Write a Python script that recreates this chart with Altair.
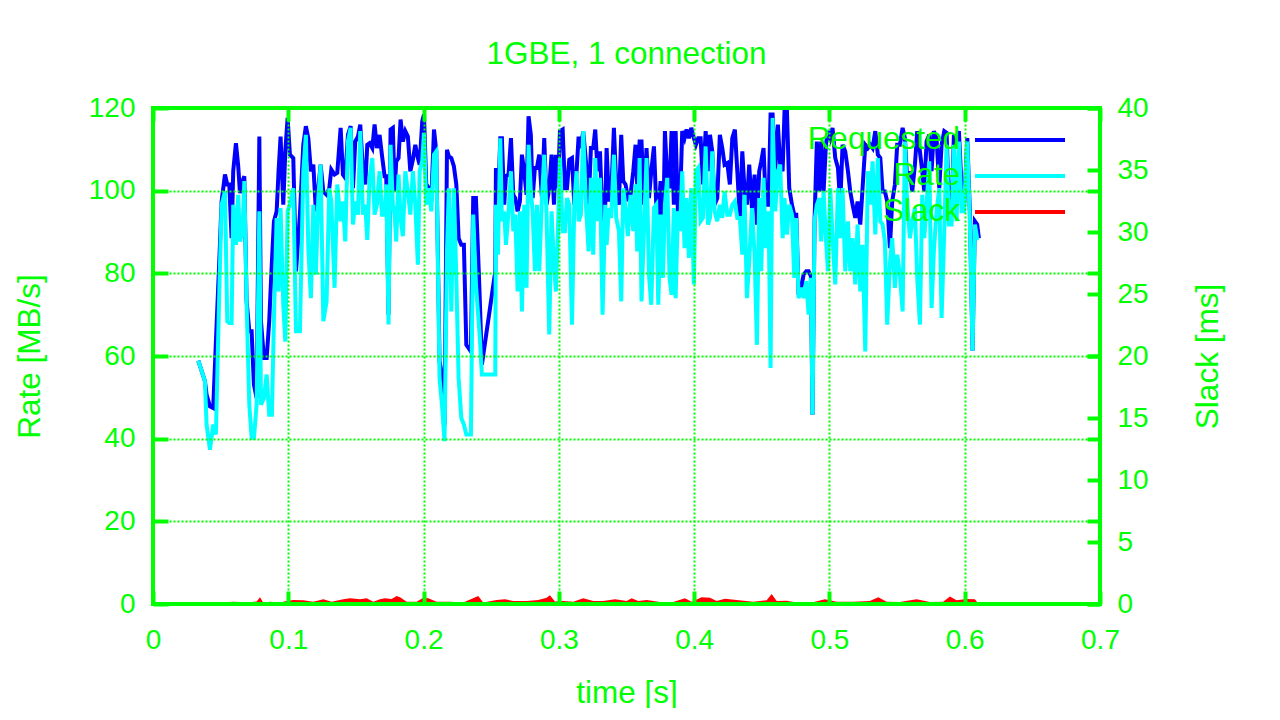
import altair as alt
import pandas as pd

GREEN = "#00ff00"
FONT = "Liberation Sans"
FS_NUM = 28     # tick labels
FS_TXT = 31.5   # titles and legend

# ---------------- data ----------------
time_a = [0.0335,0.0384,0.0396,0.0421,0.0445,0.0465,0.0490,0.0507,0.0532,0.0549,0.0564,0.0581,0.0593,0.0613,0.0630,0.0643,0.0662,0.0675,0.0692,0.0712,0.0729,0.0746,0.0766,0.0786,0.0798,0.0820,0.0840,0.0859,0.0879,0.0894,0.0914,0.0928,0.0943,0.0963,0.0978,0.0995,0.1012,0.1037,0.1057,0.1086,0.1111,0.1130,0.1148,0.1167,0.1185,0.1204,0.1222,0.1239,0.1259,0.1283,0.1303]
req_a = [58.9,53.9,50.6,47.8,47.4,63.5,82.9,97.4,103.9,101.5,101.5,88.5,104.7,111.5,105.9,99.4,102.3,103.5,73.2,66.0,66.0,53.1,49.8,113.1,68.4,59.5,59.5,68.4,82.9,92.6,95.0,104.7,113.1,96.6,109.5,117.6,108.7,107.9,80.5,94.2,111.1,115.6,112.7,104.7,106.3,95.0,100.6,106.3,99.8,99.0,100.6]
rate_a = [58.9,53.9,43.4,37.3,43.4,41.0,75.6,96.6,99.8,68.4,68.0,68.0,96.6,86.9,99.0,87.7,90.2,102.3,72.4,48.2,40.2,40.2,48.2,95.0,48.2,49.8,55.5,45.8,45.8,69.2,93.4,75.6,95.8,72.4,63.5,95.0,96.6,100.6,66.0,66.0,104.7,113.5,86.1,74.0,96.6,79.7,98.2,106.3,68.4,73.2,100.6]

time_b = [0.1318,0.1342,0.1362,0.1387,0.1404,0.1421,0.1441,0.1461,0.1478,0.1495,0.1515,0.1532,0.1552,0.1569,0.1584,0.1601,0.1621,0.1638,0.1655,0.1675,0.1692,0.1712,0.1724,0.1741,0.1756,0.1773,0.1786,0.1798,0.1815,0.1830,0.1847,0.1865,0.1884,0.1902,0.1921,0.1939,0.1958,0.1971,0.1990,0.2003,0.2020,0.2040,0.2057,0.2077,0.2094,0.2118,0.2136,0.2155,0.2173,0.2187,0.2205,0.2224,0.2242,0.2259,0.2279,0.2298,0.2316]
req_b = [105.1,103.9,104.3,115.2,103.9,103.1,113.5,115.6,100.6,111.9,113.1,116.0,104.7,101.5,111.1,111.5,110.3,116.0,110.3,113.5,108.7,103.5,103.5,70.0,114.8,115.2,99.8,107.1,107.9,117.2,111.9,114.4,113.1,104.7,107.5,111.1,107.9,106.3,116.8,118.4,101.5,100.6,97.4,114.8,109.5,58.7,55.5,43.4,109.9,108.3,107.9,105.9,101.5,88.5,86.9,86.9,62.7]
rate_b = [97.4,76.5,101.5,92.6,97.4,87.7,111.9,115.2,91.8,97.4,94.2,114.4,94.2,96.6,88.1,103.1,107.9,94.2,96.6,104.7,94.2,94.2,101.5,67.6,111.1,96.6,94.2,87.7,103.9,93.4,89.0,104.7,99.8,94.2,104.7,96.6,82.1,104.7,107.1,114.0,96.6,100.6,95.0,108.7,109.5,54.7,48.2,39.4,85.3,100.6,70.8,100.6,78.9,54.7,45.0,43.4,41.0]

time_c = [0.2333,0.2350,0.2367,0.2387,0.2407,0.2416,0.2431,0.2530,0.2535,0.2550,0.2567,0.2579,0.2596,0.2609,0.2628,0.2646,0.2663,0.2678,0.2695,0.2712,0.2727,0.2744,0.2761,0.2776,0.2793,0.2806,0.2823,0.2838,0.2855,0.2875,0.2892,0.2909,0.2929,0.2946,0.2964,0.2978,0.2993,0.3008,0.3028,0.3045,0.3060,0.3077,0.3097,0.3114,0.3131,0.3146,0.3163,0.3180,0.3200,0.3220,0.3237,0.3254,0.3269,0.3286,0.3304,0.3323,0.3343]
req_c = [61.9,61.1,98.2,98.2,81.3,73.2,57.9,80.5,105.5,96.6,112.7,112.7,96.6,103.5,103.9,112.7,99.0,98.2,95.0,97.4,108.7,104.7,99.0,118.0,113.5,98.2,105.5,105.5,108.7,98.2,112.7,96.6,100.6,108.7,96.6,108.7,100.6,114.4,114.8,100.6,100.6,107.5,107.9,96.6,104.7,113.1,110.3,114.4,107.1,96.6,110.3,110.3,114.8,104.7,109.5,92.6,96.6]
rate_c = [41.0,41.0,94.2,77.3,68.4,64.4,55.5,55.5,96.6,84.5,112.7,92.6,95.0,86.9,95.0,104.7,90.2,94.2,75.6,95.0,70.8,96.6,76.5,111.1,99.8,95.0,80.5,96.6,80.5,98.2,108.7,94.2,65.2,95.0,82.1,75.6,90.2,107.9,90.2,90.2,98.2,96.6,67.6,96.6,104.7,92.6,94.2,114.4,96.6,85.3,103.1,84.5,107.9,92.6,103.1,70.0,96.6]

time_d = [0.3353,0.3370,0.3387,0.3407,0.3424,0.3444,0.3461,0.3476,0.3493,0.3510,0.3530,0.3550,0.3567,0.3579,0.3597,0.3611,0.3629,0.3648,0.3666,0.3683,0.3703,0.3720,0.3735,0.3752,0.3769,0.3784,0.3801,0.3818,0.3833,0.3850,0.3863,0.3880,0.3895,0.3912,0.3929,0.3944,0.3961,0.3979,0.3998,0.4013,0.4030,0.4048,0.4065,0.4085,0.4102,0.4117,0.4134,0.4151,0.4171,0.4190,0.4208,0.4225,0.4245,0.4264,0.4282,0.4301,0.4319,0.4338,0.4356]
req_d = [110.3,97.4,99.0,115.2,101.5,96.6,113.5,102.3,101.5,98.2,99.0,104.7,111.1,101.5,111.9,111.9,96.6,110.3,98.2,104.7,110.7,96.6,94.2,102.3,85.3,114.4,103.1,100.6,114.4,96.6,114.4,95.0,96.6,114.4,112.7,114.8,112.7,115.2,112.7,111.1,112.7,112.7,101.5,114.4,104.7,113.5,109.5,96.6,98.2,113.5,110.3,106.3,106.7,101.5,112.7,114.8,104.7,93.4,109.5]
rate_d = [86.9,95.8,93.4,108.7,93.4,90.2,73.2,100.6,95.8,89.0,99.0,90.2,101.5,85.3,107.9,73.2,90.2,107.9,79.7,72.4,95.8,96.6,72.4,94.2,78.9,96.6,103.1,78.9,74.8,95.8,74.0,95.0,90.2,104.7,86.1,98.2,83.7,100.6,77.3,104.7,105.5,92.6,93.4,110.7,91.8,93.4,109.5,95.0,92.6,96.6,93.4,99.8,94.2,94.2,96.6,97.4,93.4,93.4,84.5]

time_e = [0.4373,0.4390,0.4407,0.4427,0.4447,0.4464,0.4481,0.4496,0.4513,0.4530,0.4550,0.4565,0.4580,0.4599,0.4619,0.4636,0.4654,0.4668,0.4686,0.4703,0.4723,0.4740,0.4755,0.4772,0.4792,0.4809,0.4829,0.4846,0.4863,0.4875,0.4890,0.4907,0.4925,0.4939,0.4957,0.4974,0.4989,0.5006,0.5023,0.5043,0.5063,0.5080,0.5097,0.5117,0.5137,0.5154,0.5171,0.5191,0.5208,0.5228,0.5245,0.5265,0.5284,0.5302,0.5319,0.5339,0.5358,0.5376]
req_e = [99.8,96.6,106.3,95.8,103.9,91.8,104.7,107.1,110.3,96.6,96.6,118.4,118.4,104.7,116.0,106.3,104.7,119.2,119.2,100.6,96.6,94.2,94.2,74.8,76.5,79.7,80.5,80.5,79.3,45.8,92.6,111.9,99.8,111.9,99.8,111.1,114.4,112.7,115.2,107.9,105.5,96.6,111.1,109.5,104.7,99.8,96.6,93.4,97.4,91.8,100.6,111.1,110.3,111.1,110.3,114.4,108.7,107.9]
rate_e = [99.0,74.0,82.9,95.8,84.5,62.7,98.2,80.5,103.1,86.1,95.0,57.1,117.6,95.0,104.7,106.3,88.5,98.2,89.4,96.6,94.2,78.9,93.4,74.0,76.5,74.0,78.1,70.0,78.9,45.8,92.6,96.6,98.2,87.7,99.8,88.5,80.5,100.6,88.5,77.3,100.6,88.5,100.6,80.5,92.6,80.5,88.5,77.3,91.8,75.6,86.9,61.1,104.7,96.6,107.1,89.4,107.9,92.6]

time_f = [0.5393,0.5410,0.5427,0.5447,0.5464,0.5484,0.5501,0.5521,0.5541,0.5558,0.5575,0.5595,0.5612,0.5632,0.5649,0.5669,0.5686,0.5701,0.5718,0.5738,0.5755,0.5772,0.5792,0.5812,0.5829,0.5849,0.5866,0.5883,0.5903,0.5920,0.5940,0.5957,0.5977,0.5994,0.6019,0.6038,0.6058,0.6075,0.6092,0.6105]
req_f = [99.8,99.8,97.4,86.1,97.4,101.5,111.1,111.1,115.2,112.7,102.3,104.7,99.8,106.3,114.4,109.5,104.7,99.8,111.9,113.5,104.7,114.4,112.7,100.6,111.1,114.4,114.0,96.6,94.2,113.5,111.1,114.4,100.6,95.0,112.7,95.0,61.3,92.6,91.8,88.5]
rate_f = [91.8,87.7,67.6,82.1,88.5,76.5,84.5,79.7,70.8,111.9,96.6,88.5,92.6,95.8,78.9,67.6,99.0,88.5,96.6,107.1,71.6,85.3,95.0,100.6,69.2,90.2,111.1,91.8,91.8,111.1,92.6,111.9,95.0,95.0,111.9,92.6,61.3,91.8,88.5,88.5]

slack_time = [0.0320,0.0347,0.0470,0.0590,0.0717,0.0766,0.0791,0.0815,0.0865,0.0939,
              0.0988,0.1037,0.1111,0.1185,0.1259,0.1321,0.1407,0.1456,0.1530,0.1579,
              0.1628,0.1678,0.1715,0.1764,0.1801,0.1826,0.1875,0.1949,0.1998,0.2035,
              0.2096,0.2195,0.2293,0.2404,0.2441,0.2540,0.2602,0.2663,0.2762,0.2848,
              0.2910,0.2934,0.2971,0.3033,0.3107,0.3180,0.3254,0.3328,0.3415,0.3501,
              0.3538,0.3587,0.3649,0.3747,0.3846,0.3932,0.3981,0.4055,0.4117,0.4166,
              0.4228,0.4314,0.4437,0.4536,0.4573,0.4610,0.4684,0.4757,0.4856,0.4967,
              0.5053,0.5176,0.5299,0.5361,0.5423,0.5521,0.5644,0.5743,0.5841,0.5891,
              0.5940,0.6014,0.6075,0.6100]
slack_ms = [0.0,0.05,0.10,0.19,0.15,0.20,0.54,0.10,0.19,0.13,
            0.24,0.32,0.30,0.19,0.38,0.19,0.38,0.46,0.38,0.46,
            0.19,0.38,0.46,0.40,0.65,0.54,0.19,0.19,0.50,0.46,
            0.19,0.19,0.13,0.65,0.13,0.32,0.38,0.24,0.24,0.32,
            0.50,0.70,0.20,0.24,0.19,0.46,0.24,0.24,0.38,0.24,
            0.46,0.24,0.32,0.16,0.16,0.46,0.19,0.54,0.50,0.24,
            0.42,0.32,0.19,0.30,0.81,0.24,0.27,0.13,0.08,0.38,
            0.19,0.19,0.24,0.54,0.19,0.16,0.38,0.16,0.19,0.60,
            0.30,0.40,0.38,0.05]

x_ticks = [0, 0.1, 0.2, 0.3, 0.4, 0.5, 0.6, 0.7]
y_ticks = [0, 20, 40, 60, 80, 100, 120]
y2_ticks = [0, 5, 10, 15, 20, 25, 30, 35, 40]
series_names = ["Requested", "Rate", "Slack"]
series_colors = ["#0000ff", "#00ffff", "#ff0000"]

# ---------------- tables ----------------
time = time_a + time_b + time_c + time_d + time_e + time_f
requested = req_a + req_b + req_c + req_d + req_e + req_f
rate = rate_a + rate_b + rate_c + rate_d + rate_e + rate_f
df = pd.DataFrame({"time": time, "Requested": requested, "Rate": rate})
slack_df = pd.DataFrame({"time": slack_time, "Slack": slack_ms})
one_row = pd.DataFrame({"k": [0]})

W, H = 947, 496
xscale = alt.Scale(domain=[0, 0.7], nice=False, zero=False)
yscale = alt.Scale(domain=[0, 120], nice=False)
y2scale = alt.Scale(domain=[0, 40], nice=False)

txt = dict(labelColor=GREEN, labelFont=FONT, labelFontSize=FS_NUM,
           titleColor=GREEN, titleFont=FONT, titleFontSize=FS_TXT, titleFontWeight="normal",
           tickColor=GREEN, labelFlush=False, labelOverlap=False)

x_bottom = alt.Axis(orient="bottom", values=x_ticks, format="~g", offset=-13, tickSize=13, tickWidth=4,
                    domain=False, grid=True, gridColor=GREEN, gridDash=[2, 2], gridWidth=2, gridOpacity=1,
                    labelPadding=22, title="time [s]", titlePadding=23, zindex=1, **txt)
x_top = alt.Axis(orient="top", values=x_ticks, offset=-13, tickSize=13, tickWidth=4, domain=False,
                 grid=False, labels=False, title=None, zindex=1, tickColor=GREEN)
y_left = alt.Axis(orient="left", values=y_ticks, offset=-15, tickSize=15, tickWidth=4, domain=False,
                  grid=True, gridColor=GREEN, gridDash=[2, 2], gridWidth=2, gridOpacity=1,
                  labelPadding=18, title="Rate [MB/s]", titlePadding=42, titleAngle=270, zindex=1, **txt)
y_left_mirror = alt.Axis(orient="right", values=y_ticks, offset=-13, tickSize=13, tickWidth=4,
                         domain=False, grid=False, labels=False, title=None, zindex=1, tickColor=GREEN)
y_right = alt.Axis(orient="right", values=y2_ticks, offset=-13, tickSize=13, tickWidth=4, domain=False,
                   grid=False, labelPadding=17, title="Slack [ms]", titlePadding=76, titleAngle=270,
                   zindex=1, **txt)

req_line = alt.Chart(df).mark_line(color=series_colors[0], strokeWidth=4).encode(
    x=alt.X("time:Q", scale=xscale, axis=x_bottom),
    y=alt.Y("Requested:Q", scale=yscale, axis=y_left),
)
rate_line = alt.Chart(df).mark_line(color=series_colors[1], strokeWidth=4).encode(
    x=alt.X("time:Q", scale=xscale, axis=x_top),
    y=alt.Y("Rate:Q", scale=yscale, axis=y_left_mirror),
)
slack_area = alt.Chart(slack_df).mark_area(color=series_colors[2], opacity=1).encode(
    x=alt.X("time:Q", scale=xscale, axis=None),
    y=alt.Y("Slack:Q", scale=y2scale, axis=y_right),
)

legend_layers = []
for i, (name, col) in enumerate(zip(series_names, series_colors)):
    ypix = 32 + 36 * i
    legend_layers.append(
        alt.Chart(one_row).mark_text(align="right", baseline="middle", font=FONT, fontSize=FS_TXT,
                                     color=GREEN).encode(
            x=alt.value(807), y=alt.value(ypix), text=alt.value(name))
    )
    legend_layers.append(
        alt.Chart(one_row).mark_rule(color=col, strokeWidth=4).encode(
            x=alt.value(822), x2=alt.value(912), y=alt.value(ypix))
    )

border = alt.Chart(one_row).mark_rect(filled=False, stroke=GREEN, strokeWidth=4).encode(
    x=alt.value(0), x2=alt.value(W), y=alt.value(0), y2=alt.value(H))

chart = alt.layer(req_line, rate_line, slack_area, *legend_layers, border).resolve_scale(
    y="independent"
).resolve_axis(x="independent", y="independent").properties(
    width=W, height=H,
    title=alt.TitleParams("1GBE, 1 connection", font=FONT, fontSize=FS_TXT, fontWeight="normal",
                          color=GREEN, anchor="middle", offset=24),
    autosize=alt.AutoSizeParams(type="none"),
    padding={"left": 145, "top": 100, "right": 172, "bottom": 104},
).configure_view(stroke=None).configure(background="white")

chart.save("out.html", embed_options={"renderer": "svg", "actions": False})
